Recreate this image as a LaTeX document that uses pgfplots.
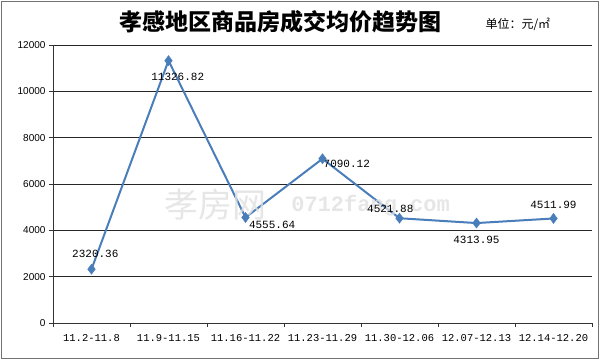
\documentclass[border=0pt]{standalone}
\usepackage{pgfplots}
\pgfplotsset{compat=1.18}
\usepackage{fontspec}
\setmainfont{Liberation Sans}
\newfontfamily\cjk{Noto Sans CJK SC}
\newfontfamily\mono{Liberation Mono}
\definecolor{lineblue}{HTML}{4A7EBB}
\begin{document}
\begin{tikzpicture}
\path[use as bounding box] (0pt,0pt) rectangle (600pt,360pt);
\draw[color=black!55, line width=1pt] (1.5pt,1.5pt) rectangle (598.5pt,358.5pt);
\node[font=\cjk\fontsize{23}{25}\selectfont\bfseries] at (280pt,338pt) {孝感地区商品房成交均价趋势图};
\node[font=\cjk\fontsize{12}{14}\selectfont, anchor=west] at (482pt,336pt) {单位：元/㎡};
\begin{axis}[
  at={(53pt,37pt)}, anchor=south west,
  scale only axis, width=539pt, height=278pt,
  xmin=-0.5, xmax=6.5, ymin=0, ymax=12000,
  axis x line=bottom, axis y line=left,
  axis line style={-, black!80, line width=0.8pt},
  xtick={0,...,6},
  xticklabels={11.2-11.8,11.9-11.15,11.16-11.22,11.23-11.29,11.30-12.06,12.07-12.13,12.14-12.20},
  x tick label style={font=\mono\fontsize{10.5}{12}\selectfont, yshift=-4pt},
  major x tick style={draw=none},
  minor xtick={-0.5,0.5,...,6.5},
  minor tick length=4pt,
  minor x tick style={black!80, line width=0.8pt},
  ytick={0,2000,...,12000},
  scaled y ticks=false,
  y tick label style={font=\fontsize{10}{12}\selectfont},
  /pgf/number format/assume math mode=true,
  /pgf/number format/set thousands separator={},
  tick align=outside, major tick length=4pt,
  ymajorgrids, grid style={black!85, line width=0.7pt},
  y tick style={black!80, line width=0.8pt},
  clip=false,
]
\addplot[color=lineblue, line width=2pt, mark=diamond*, mark size=5pt, mark options={fill=lineblue, line width=0.5pt}] coordinates {
(0,2320.36) (1,11326.82) (2,4555.64) (3,7090.12) (4,4521.88) (5,4313.95) (6,4511.99)};
\node[font=\cjk\fontsize{34}{36}\selectfont, text=black!12, opacity=0.8, anchor=west] at (axis cs:0.9,5100) {孝房网};
\node[font=\mono\fontsize{22}{24}\selectfont\bfseries, text=black!12, opacity=0.8, anchor=west] at (axis cs:2.55,5050) {0712fang.com};
\begin{scope}[font=\mono\fontsize{11}{13}\selectfont]
\node[anchor=south] at (axis cs:0.05,2650) {2320.36};
\node[anchor=north] at (axis cs:1.12,10950) {11326.82};
\node[anchor=north west, inner sep=1pt] at (axis cs:2.03,4450) {4555.64};
\node[anchor=west, inner sep=1pt] at (axis cs:3.0,6870) {7090.12};
\node[anchor=south] at (axis cs:3.88,4620) {4521.88};
\node[anchor=north] at (axis cs:5.0,3900) {4313.95};
\node[anchor=south] at (axis cs:6.0,4800) {4511.99};
\end{scope}
\end{axis}
\end{tikzpicture}
\end{document}
